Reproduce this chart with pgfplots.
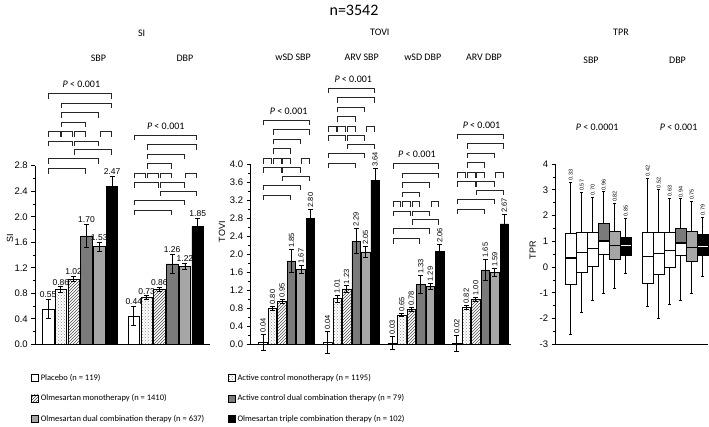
\documentclass[border=0pt]{standalone}
\usepackage{pgfplots}
\pgfplotsset{compat=1.18}
\usepgfplotslibrary{statistics}
\usetikzlibrary{patterns}
\usepackage{fontspec}
\setmainfont{Carlito}
\newfontfamily\arial{Liberation Sans}
\newcommand\fs[1]{\fontsize{#1}{#1}\selectfont}

\colorlet{dgray}{black!52}
\colorlet{lgray}{black!35}
\tikzset{
  pdot/.style={fill=white, postaction={pattern=crosshatch dots, pattern color=black!45}},
  phatch/.style={fill=white, postaction={pattern=north east lines, pattern color=black!70}},
}

\pgfplotsset{
  panel/.style={scale only axis, anchor=south west, axis lines=left,
    axis line style={-, line width=0.8pt}, clip=false, xtick=\empty,
    tick align=outside, major tick length=4pt, minor tick length=2.5pt,
    minor y tick num=1, every tick/.style={black, line width=0.6pt},
    y tick label style={font=\arial\fs{9.5}},
    /pgf/number format/assume math mode=true,
    ylabel style={font=\arial\fs{9}, anchor=center}},
  bar/.style={ybar, bar width=0.9, bar shift=0pt, draw=black, line width=0.6pt,
    error bars/y dir=both, error bars/y explicit,
    error bars/error bar style={black, line width=0.8pt},
    error bars/error mark options={rotate=90, black, mark size=2.5pt, line width=0.8pt},
    legend image code/.code={\draw[##1, line width=0.6pt] (0pt,-3.6pt) rectangle (7.2pt,3.6pt);}},
  vlab/.style={forget plot, only marks, mark=*, mark size=0pt, mark options={draw=none, fill=none},
    nodes near coords, point meta=explicit symbolic,
    nodes near coords style={font=\arial\fs{#1}, inner sep=1.5pt, anchor=south}},
  rlab/.style={vlab=#1, nodes near coords style={rotate=90, anchor=west}},
  brk/.style={forget plot, black!85, line width=1pt},
  bxs/.style={forget plot, draw=black, line width=0.7pt, fill=white, solid},
}

% significance brackets: bar i of a group sits at \gx+i
\newcommand\brk[3]{%
  \pgfmathsetmacro\xa{\gx+#1+0.8/\pxu}%
  \pgfmathsetmacro\xb{\gx+#2-0.8/\pxu}%
  \pgfmathsetmacro\ya{\gy-#3/\ppu}%
  \pgfmathsetmacro\yb{\ya-5/\ppu}%
  \addplot[brk] coordinates {(\xa,\yb) (\xa,\ya) (\xb,\ya) (\xb,\yb)};}
\newcommand\brackets{%
  \brk{1}{6}{0}\brk{2}{6}{9.5}\brk{2}{5}{19}\brk{2}{4}{28.5}%
  \brk{1}{2}{38.3}\brk{2}{3}{38.3}\brk{3}{4}{38.3}\brk{5}{6}{38.3}%
  \brk{1}{3}{47.7}\brk{3}{5}{47.7}\brk{3}{6}{56}\brk{1}{5}{65}\brk{1}{4}{75}}

% boxes: pos, style, lower whisker, lower quartile, median, upper quartile, upper whisker
\newcommand\bx[7]{\addplot[bxs, #2, boxplot prepared={draw direction=y, draw position=#1,
  lower whisker=#3, lower quartile=#4, median=#5, upper quartile=#6, upper whisker=#7}] coordinates {};}
\newcommand\bxtop[4]{\addplot[bxs, #2, boxplot prepared={draw direction=y, draw position=#1,
  lower whisker=#3, lower quartile=#3, median=#3, upper quartile=#4, upper whisker=#4,
  whisker extend=0}] coordinates {};}

\begin{document}
\begin{tikzpicture}
\useasboundingbox (0,0) rectangle (709pt,426pt);

% ---------------- SI ----------------
\begin{axis}[panel, at={(35.3pt,81.7pt)}, width=174.7pt, height=178.6pt,
  xmin=0, xmax=13.66, ymin=0, ymax=2.8,
  ytick={0,0.4,0.8,1.2,1.6,2,2.4,2.8},
  /pgf/number format/fixed, /pgf/number format/fixed zerofill, /pgf/number format/precision=1,
  ylabel={SI}, ylabel style={at={(axis description cs:-0.145,0.595)}},
  legend style={at={(axis description cs:-0.026,-0.155)}, anchor=north west,
    draw=none, fill=none, font=\fs{8.5}, legend columns=2, row sep=8.8pt,
    inner sep=0pt, nodes={inner sep=2pt}},
  legend cell align=left]
\addplot[bar, fill=white] coordinates {(1,0.55) +- (0,0.15) (7.7,0.44) +- (0,0.15)};
\addlegendentry{\makebox[185pt][l]{Placebo (n = 119)}}
\addplot[bar, pdot] coordinates {(2,0.86) +- (0,0.04) (8.7,0.73) +- (0,0.03)};
\addlegendentry{Active control monotherapy (n = 1195)}
\addplot[bar, phatch] coordinates {(3,1.02) +- (0,0.04) (9.7,0.86) +- (0,0.03)};
\addlegendentry{\makebox[185pt][l]{Olmesartan monotherapy (n = 1410)}}
\addplot[bar, fill=dgray] coordinates {(4,1.70) +- (0,0.18) (10.7,1.26) +- (0,0.15)};
\addlegendentry{Active control dual combination therapy (n = 79)}
\addplot[bar, fill=lgray] coordinates {(5,1.53) +- (0,0.07) (11.7,1.22) +- (0,0.05)};
\addlegendentry{\makebox[185pt][l]{Olmesartan dual combination therapy (n = 637)}}
\addplot[bar, fill=black] coordinates {(6,2.47) +- (0,0.16) (12.7,1.85) +- (0,0.12)};
\addlegendentry{Olmesartan triple combination therapy (n = 102)}

\addplot[vlab=8.5] coordinates {(1,0.70)[0.55] (2,0.90)[0.86] (3,1.06)[1.02]
  (4,1.88)[1.70] (5,1.60)[1.53] (6,2.63)[2.47] (7.7,0.59)[0.44] (8.7,0.76)[0.73]
  (9.7,0.89)[0.86] (10.7,1.41)[1.26] (11.7,1.27)[1.22] (12.7,1.97)[1.85]};

\def\pxu{12.8}\def\ppu{63.8}
\def\gx{0}\def\gy{3.93}\brackets
\def\gx{6.7}\def\gy{3.28}\brackets

\node[font=\fs{10}, anchor=base] at (axis cs:8.32,4.83) {SI};
\node[font=\fs{10}, anchor=base] at (axis cs:4.93,4.44) {SBP};
\node[font=\fs{10}, anchor=base] at (axis cs:11.7,4.44) {DBP};
\node[font=\fs{10}, anchor=base] at (axis cs:3.6,4.02) {\textit{P} < 0.001};
\node[font=\fs{10}, anchor=base] at (axis cs:10.2,3.37) {\textit{P} < 0.001};
\end{axis}

% ---------------- TOVI ----------------
\begin{axis}[panel, at={(250.7pt,81.7pt)}, width=260.3pt, height=180.3pt,
  xmin=-0.295, xmax=27.1, ymin=0, ymax=4,
  ytick={0,0.4,0.8,1.2,1.6,2,2.4,2.8,3.2,3.6,4},
  /pgf/number format/fixed, /pgf/number format/fixed zerofill, /pgf/number format/precision=1,
  ylabel={TOVI}, ylabel style={at={(axis description cs:-0.11,0.625)}}]
\addplot[bar, fill=white, forget plot] coordinates {(1,0.04) +- (0,0.18) (7.8,0.04) +- (0,0.24)
  (14.6,0.03) +- (0,0.15) (21.4,0.02) +- (0,0.18)};
\addplot[bar, pdot, forget plot] coordinates {(2,0.80) +- (0,0.05) (8.8,1.01) +- (0,0.07)
  (15.6,0.65) +- (0,0.04) (22.4,0.82) +- (0,0.05)};
\addplot[bar, phatch, forget plot] coordinates {(3,0.95) +- (0,0.05) (9.8,1.23) +- (0,0.07)
  (16.6,0.78) +- (0,0.04) (23.4,1.00) +- (0,0.05)};
\addplot[bar, fill=dgray, forget plot] coordinates {(4,1.85) +- (0,0.25) (10.8,2.29) +- (0,0.28)
  (17.6,1.33) +- (0,0.20) (24.4,1.65) +- (0,0.24)};
\addplot[bar, fill=lgray, forget plot] coordinates {(5,1.67) +- (0,0.09) (11.8,2.05) +- (0,0.12)
  (18.6,1.29) +- (0,0.07) (25.4,1.59) +- (0,0.09)};
\addplot[bar, fill=black, forget plot] coordinates {(6,2.80) +- (0,0.20) (12.8,3.64) +- (0,0.26)
  (19.6,2.06) +- (0,0.16) (26.4,2.67) +- (0,0.21)};

\addplot[rlab=7.5] coordinates {(1,0.22)[0.04] (2,0.85)[0.80] (3,1.00)[0.95]
  (4,2.10)[1.85] (5,1.76)[1.67] (6,3.00)[2.80]
  (7.8,0.28)[0.04] (8.8,1.08)[1.01] (9.8,1.30)[1.23] (10.8,2.57)[2.29] (11.8,2.17)[2.05] (12.8,3.90)[3.64]
  (14.6,0.18)[0.03] (15.6,0.69)[0.65] (16.6,0.82)[0.78] (17.6,1.53)[1.33] (18.6,1.36)[1.29] (19.6,2.22)[2.06]
  (21.4,0.20)[0.02] (22.4,0.87)[0.82] (23.4,1.05)[1.00] (24.4,1.89)[1.65] (25.4,1.68)[1.59] (26.4,2.88)[2.67]};

\def\pxu{9.5}\def\ppu{45.1}
\def\gx{0}\def\gy{4.97}\brackets
\def\gx{6.8}\def\gy{5.68}\brackets
\def\gx{13.6}\def\gy{4.01}\brackets
\def\gx{20.4}\def\gy{4.66}\brackets

\node[font=\fs{16}, anchor=base] at (axis cs:10.58,7.30) {n=3542};
\node[font=\fs{10}, anchor=base] at (axis cs:13.3,6.84) {TOVI};
\node[font=\fs{10}, anchor=base] at (axis cs:4.16,6.30) {wSD SBP};
\node[font=\fs{10}, anchor=base] at (axis cs:11.39,6.30) {ARV SBP};
\node[font=\fs{10}, anchor=base] at (axis cs:17.81,6.30) {wSD DBP};
\node[font=\fs{10}, anchor=base] at (axis cs:24.26,6.30) {ARV DBP};
\node[font=\fs{10}, anchor=base] at (axis cs:3.7,5.10) {\textit{P} < 0.001};
\node[font=\fs{10}, anchor=base] at (axis cs:10.5,5.81) {\textit{P} < 0.001};
\node[font=\fs{10}, anchor=base] at (axis cs:17.2,4.14) {\textit{P} < 0.001};
\node[font=\fs{10}, anchor=base] at (axis cs:24.0,4.79) {\textit{P} < 0.001};
\end{axis}

% ---------------- TPR ----------------
\begin{axis}[panel, at={(555.7pt,81.7pt)}, width=152.3pt, height=180.3pt,
  xmin=-0.373, xmax=13.47, ymin=-3, ymax=4, ytick={-3,-2,-1,0,1,2,3,4},
  ylabel={TPR}, ylabel style={at={(axis description cs:-0.151,0.523)}},
  boxplot/draw direction=y,
  boxplot/box extend=0.96, boxplot/whisker extend=0.3,
  boxplot/every median/.style={line width=1.3pt}]
% SBP
\bx{1}{}{-2.63}{-0.69}{0.35}{1.32}{3.30}
\bx{2}{}{-1.77}{-0.20}{0.57}{1.36}{2.90}
\bxtop{2}{pdot}{0.57}{1.36}
\bx{3}{}{-1.31}{0.02}{0.72}{1.36}{2.72}
\bxtop{3}{phatch}{0.72}{1.36}
\bx{4}{}{-1.03}{0.48}{1.01}{1.69}{2.92}
\bxtop{4}{fill=dgray}{1.01}{1.69}
\bx{5}{fill=lgray}{-0.83}{0.31}{0.83}{1.38}{2.46}
\bx{6}{fill=black, boxplot/every median/.style={draw=white, line width=1.3pt}}{-0.24}{0.46}{0.83}{1.16}{1.90}
% DBP
\bx{8}{}{-1.53}{-0.62}{0.41}{1.36}{3.45}
\bx{9}{}{-1.98}{-0.27}{0.52}{1.36}{3.00}
\bxtop{9}{pdot}{0.52}{1.36}
\bx{10}{}{-1.43}{0.00}{0.64}{1.36}{2.68}
\bxtop{10}{phatch}{0.64}{1.36}
\bx{11}{}{-1.30}{0.44}{0.93}{1.51}{2.65}
\bxtop{11}{fill=dgray}{0.93}{1.51}
\bx{12}{fill=lgray}{-1.01}{0.22}{0.76}{1.38}{2.55}
\bx{13}{fill=black, boxplot/every median/.style={draw=white, line width=1.3pt}}{-0.37}{0.44}{0.80}{1.25}{1.94}

\addplot[rlab=5.5] coordinates {(1,3.30)[0.33] (2,2.90)[0.57] (3,2.72)[0.70]
  (4,2.92)[0.96] (5,2.46)[0.82] (6,1.90)[0.85]
  (8,3.45)[0.42] (9,3.00)[0.52] (10,2.68)[0.63] (11,2.65)[0.94] (12,2.55)[0.75] (13,1.94)[0.79]};

\node[font=\fs{10}, anchor=base] at (axis cs:5.56,8.97) {TPR};
\node[font=\fs{10}, anchor=base] at (axis cs:2.84,7.92) {SBP};
\node[font=\fs{10}, anchor=base] at (axis cs:10.7,7.92) {DBP};
\node[font=\fs{10}, anchor=base] at (axis cs:3.4,5.29) {\textit{P} < 0.0001};
\node[font=\fs{10}, anchor=base] at (axis cs:10.8,5.29) {\textit{P} < 0.001};
\end{axis}
\end{tikzpicture}
\end{document}
